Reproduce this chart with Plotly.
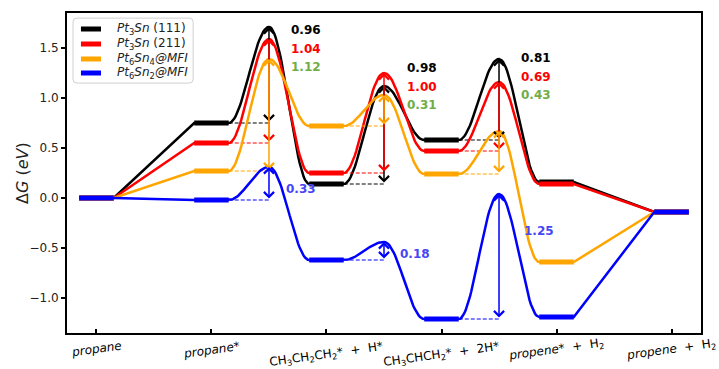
import numpy as np
import plotly.graph_objects as go

# ---------------- data ----------------
states = [
    "<i>propane</i>",
    "<i>propane</i>*",
    "CH<sub>3</sub>CH<sub>2</sub>CH<sub>2</sub>*  +  H*",
    "CH<sub>3</sub>CHCH<sub>2</sub>*  +  2H*",
    "<i>propene</i>*  +  H<sub>2</sub>",
    "<i>propene</i>  +  H<sub>2</sub>",
]

series_names = [
    "<i>Pt</i><sub>3</sub><i>Sn</i> (111)",
    "<i>Pt</i><sub>3</sub><i>Sn</i> (211)",
    "<i>Pt</i><sub>6</sub><i>Sn</i><sub>4</sub><i>@MFI</i>",
    "<i>Pt</i><sub>6</sub><i>Sn</i><sub>2</sub><i>@MFI</i>",
]

# free energies of the intermediates (eV)
pt3sn111_levels = [0.00, 0.75, 0.14, 0.58, 0.16, -0.14]
pt3sn211_levels = [0.00, 0.55, 0.25, 0.47, 0.14, -0.14]
pt6sn4_levels = [0.00, 0.27, 0.72, 0.24, -0.64, -0.14]
pt6sn2_levels = [0.00, -0.02, -0.62, -1.21, -1.19, -0.14]

# activation barriers of TS1, TS2, TS3 (eV)
pt3sn111_barriers = [0.96, 0.98, 0.81]
pt3sn211_barriers = [1.04, 1.00, 0.69]
pt6sn4_barriers = [1.12, 0.31, 0.43]
pt6sn2_barriers = [0.33, 0.18, 1.25]

y_ticks = [-1.0, -0.5, 0.0, 0.5, 1.0, 1.5]
y_title = "Δ<i>G</i> (<i>eV</i>)"

# ---------------- styles ----------------
line_colors = ["black", "red", "orange", "blue"]
label_colors = ["black", "red", "#70ad47", "#4646f5"]
all_levels = [pt3sn111_levels, pt3sn211_levels, pt6sn4_levels, pt6sn2_levels]
all_barriers = [pt3sn111_barriers, pt3sn211_barriers, pt6sn4_barriers, pt6sn2_barriers]
ts_steps = [1, 2, 3]          # TS k sits between state k and k+1
half_w = 0.15                 # half width of a level bar
label_x_off = [0.17, 0.18, 0.17]
label_top = [1.68, 1.30, 1.40]
label_step = 0.185
blue_label_pos = [(1.63, 0.09), (2.62, -0.56), (3.70, -0.33)]
state_label_shift = [-16, -17, -22, -22, -17, -17]   # px below the axis

# manual legend geometry (paper coords)
leg_box = (0.0095, 0.199, 0.781, 0.984)
leg_line_x = (0.022, 0.0536)
leg_text_x = 0.0757
leg_rows = [0.950, 0.9031, 0.8563, 0.8125]
plot_w_px, plot_h_px = 634, 320
corner_px = 4

fig = go.Figure()


def cos_seg(x0, x1, y0, y1, n=30):
    t = np.linspace(0, 1, n)
    return list(x0 + (x1 - x0) * t), list(y0 + (y1 - y0) * (1 - np.cos(np.pi * t)) / 2)


for si, (levels, barriers) in enumerate(zip(all_levels, all_barriers)):
    col = line_colors[si]
    xs, ys = [], []
    for i, e in enumerate(levels):
        xs += [i - half_w, i + half_w]
        ys += [e, e]
        if i == len(levels) - 1:
            break
        if i in ts_steps:
            k = ts_steps.index(i)
            ets = e + barriers[k]
            a, b = cos_seg(i + half_w, i + 0.5, e, ets)
            xs += a
            ys += b
            a, b = cos_seg(i + 0.5, i + 1 - half_w, ets, levels[i + 1])
            xs += a
            ys += b
    fig.add_trace(go.Scatter(x=xs, y=ys, mode="lines", line=dict(color=col, width=2.5),
                             name=series_names[si], showlegend=False, hoverinfo="skip"))
    # level bars
    lx, ly = [], []
    for i, e in enumerate(levels):
        lx += [i - half_w, i + half_w, None]
        ly += [e, e, None]
    fig.add_trace(go.Scatter(x=lx, y=ly, mode="lines", line=dict(color=col, width=5),
                             name=series_names[si], showlegend=False, hoverinfo="skip"))
    # dashed reference lines
    dx, dy = [], []
    for k, i in enumerate(ts_steps):
        dx += [i + half_w, i + 0.5, None]
        dy += [levels[i], levels[i], None]
    fig.add_trace(go.Scatter(x=dx, y=dy, mode="lines",
                             line=dict(color=col, width=1, dash="4px,2px"),
                             showlegend=False, hoverinfo="skip"))

annotations = []
for si, (levels, barriers) in enumerate(zip(all_levels, all_barriers)):
    col = line_colors[si]
    for k, i in enumerate(ts_steps):
        ts_x = i + 0.5
        annotations.append(dict(
            x=ts_x, y=levels[i] + barriers[k], ax=ts_x, ay=levels[i],
            xref="x", yref="y", axref="x", ayref="y", text="", showarrow=True,
            arrowhead=4, startarrowhead=4, arrowside="end+start", arrowsize=1.3,
            arrowwidth=1.5, arrowcolor=col, standoff=0, startstandoff=0))

for si, barriers in enumerate(all_barriers):
    for k, i in enumerate(ts_steps):
        if si < 3:
            x = i + 0.5 + label_x_off[k]
            y = label_top[k] - si * label_step
        else:
            x, y = blue_label_pos[k]
        annotations.append(dict(
            x=x, y=y, xref="x", yref="y", text="<b>%.2f</b>" % barriers[k],
            showarrow=False, xanchor="left", yanchor="middle",
            font=dict(family="DejaVu Sans", size=12, color=label_colors[si])))

for i, lab in enumerate(states):
    annotations.append(dict(
        x=i, y=0, xref="x", yref="paper", yshift=state_label_shift[i], text=lab,
        showarrow=False, xanchor="center", yanchor="middle", textangle=-8,
        font=dict(family="DejaVu Sans", size=12, color="black")))

# y-axis title
annotations.append(dict(x=-0.071, y=0.5, xref="paper", yref="paper", text=y_title,
                        showarrow=False, textangle=-90, xanchor="center", yanchor="middle",
                        font=dict(family="DejaVu Sans", size=16, color="#222")))

# manual legend with a rounded frame
x0, x1, y0, y1 = leg_box
rx, ry = corner_px / plot_w_px, corner_px / plot_h_px
path = (f"M {x0+rx},{y0} L {x1-rx},{y0} Q {x1},{y0} {x1},{y0+ry} "
        f"L {x1},{y1-ry} Q {x1},{y1} {x1-rx},{y1} L {x0+rx},{y1} "
        f"Q {x0},{y1} {x0},{y1-ry} L {x0},{y0+ry} Q {x0},{y0} {x0+rx},{y0} Z")
shapes = [dict(type="path", xref="paper", yref="paper", path=path,
               line=dict(color="#d0d0d0", width=1), fillcolor="white", layer="above")]
for si, name in enumerate(series_names):
    shapes.append(dict(type="line", xref="paper", yref="paper",
                       x0=leg_line_x[0], x1=leg_line_x[1], y0=leg_rows[si], y1=leg_rows[si],
                       line=dict(color=line_colors[si], width=5), layer="above"))
    annotations.append(dict(x=leg_text_x, y=leg_rows[si], xref="paper", yref="paper",
                            text=name, showarrow=False, xanchor="left", yanchor="middle",
                            font=dict(family="DejaVu Sans", size=12, color="#222")))

fig.update_layout(
    width=719, height=369,
    margin=dict(l=67, r=18, t=13, b=36),
    paper_bgcolor="white", plot_bgcolor="white",
    font=dict(family="DejaVu Sans", size=12, color="black"),
    annotations=annotations, shapes=shapes, showlegend=False,
)
fig.update_xaxes(range=[-0.256, 5.256], showgrid=False, zeroline=False,
                 showline=True, linecolor="black", linewidth=2, mirror=True,
                 ticks="inside", ticklen=4, tickwidth=1.5, tickcolor="black",
                 tickvals=list(range(len(states))), showticklabels=False)
fig.update_yaxes(range=[-1.35, 1.85], showgrid=False, zeroline=False,
                 showline=True, linecolor="black", linewidth=2, mirror=True,
                 ticks="outside", ticklen=4, tickwidth=1.5, tickcolor="black",
                 tickvals=y_ticks, tickformat=".1f",
                 tickfont=dict(family="DejaVu Sans", size=12, color="#222"))

fig.write_html("out.html")
